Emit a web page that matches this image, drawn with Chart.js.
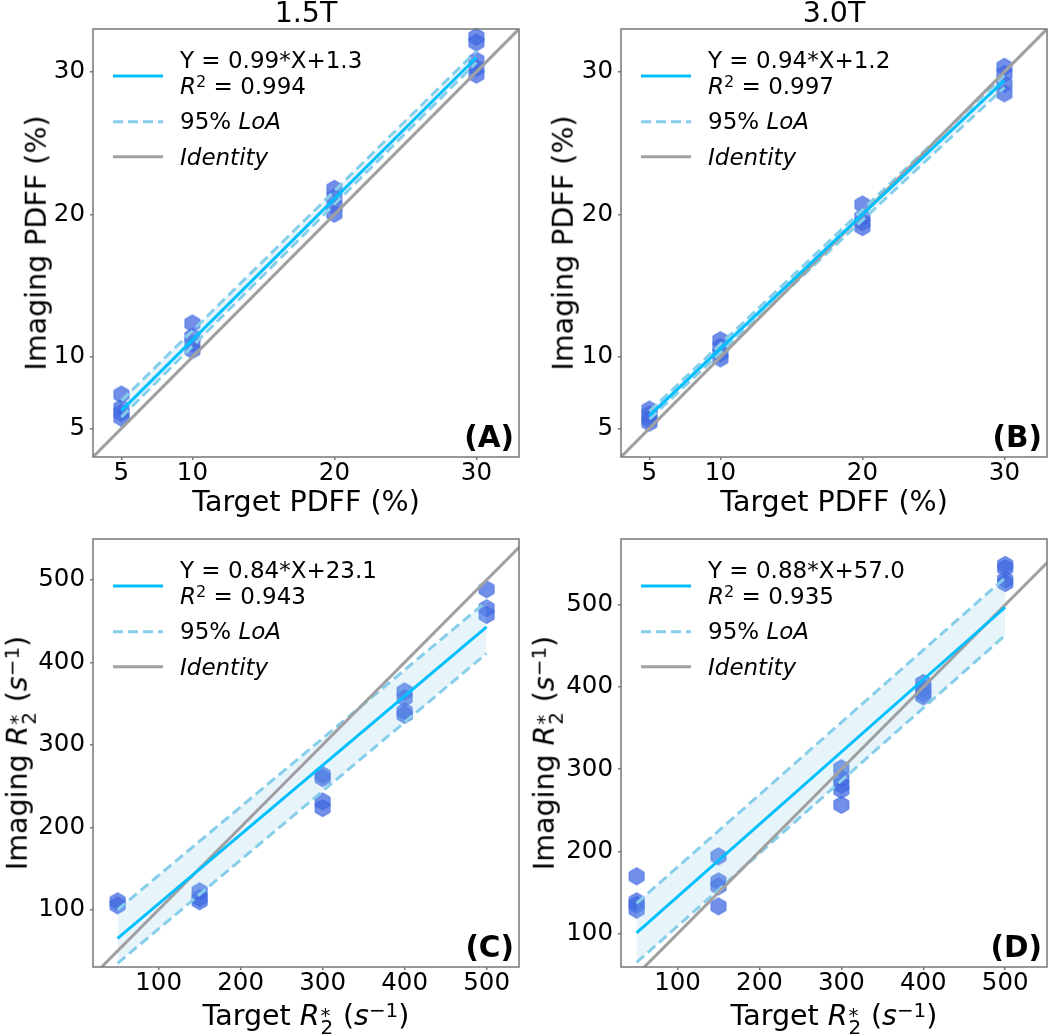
<!DOCTYPE html>
<html>
<head>
<meta charset="utf-8">
<script src="https://cdn.jsdelivr.net/npm/chart.js@4.4.1/dist/chart.umd.min.js"></script>
<style>
  body { margin: 0; background: #fff; }
  #wrap { position: relative; width: 1050px; height: 1036px; overflow: hidden; font-family: 'DejaVu Sans', sans-serif; color: #000; }
  canvas { position: absolute; }
  .t { position: absolute; white-space: nowrap; line-height: 1; }
</style>
</head>
<body>
<div id="wrap"></div>
<script>
// column titles and panel tags
const titles = ['1.5T', '3.0T'];
const tags = ['(A)', '(B)', '(C)', '(D)'];
const eqs = ['Y = 0.99*X+1.3', 'Y = 0.94*X+1.2', 'Y = 0.84*X+23.1', 'Y = 0.88*X+57.0'];
const r2s = ['0.994', '0.997', '0.943', '0.935'];

// tick values
const pdffTicks = [5, 10, 20, 30];
const r2Ticks = [100, 200, 300, 400, 500];

// identity line ends
const identity = [0, 600];

// (A) PDFF 1.5T
const aX = [5, 5, 5, 5, 10, 10, 10, 10, 20, 20, 20, 20, 30, 30, 30, 30, 30];
const aY = [7.38, 6.45, 6.1, 5.75, 12.36, 11.43, 10.96, 10.49, 21.8, 21.2, 20.6, 20.05, 32.45, 32.05, 30.8, 30.26, 29.8];
const aFitX = [5, 30];
const aFit = [6.25, 31.0];
const aUpper = [6.95, 31.45];
const aLower = [5.8, 30.65];

// (B) PDFF 3.0T
const bX = [5, 5, 5, 5, 10, 10, 10, 10, 20, 20, 20, 20, 30, 30, 30, 30];
const bY = [6.33, 5.98, 5.63, 5.4, 11.19, 10.72, 10.26, 9.91, 20.7, 19.81, 19.46, 19.11, 30.35, 29.85, 29.15, 28.49];
const bFitX = [5, 30];
const bFit = [5.9, 29.4];
const bUpper = [6.2, 29.75];
const bLower = [5.65, 28.9];

// (C) R2* 1.5T
const cX = [50, 50, 150, 150, 150, 300, 300, 300, 300, 400, 400, 400, 400, 500, 500, 500];
const cY = [110.2, 105.3, 122.3, 114.2, 110.2, 263.6, 259.6, 231.4, 223.3, 364.8, 356.7, 340.6, 336.4, 488.7, 465.7, 457.6];
const cFitX = [50, 500];
const cFit = [65.1, 443.1];
const cUpper = [100, 474];
const cLower = [35, 411];

// (D) R2* 3.0T
const dX = [50, 50, 50, 50, 150, 150, 150, 150, 300, 300, 300, 300, 300, 400, 400, 400, 400, 500, 500, 500, 500];
const dY = [169.8, 139.4, 135.3, 129.2, 194.1, 163.7, 157.6, 133.3, 301.2, 289, 280.9, 274.8, 256.6, 404.9, 398.8, 392.7, 388.6, 548.6, 544.6, 530.4, 526.3];
const dFitX = [50, 500];
const dFit = [101, 497];
const dUpper = [137, 533];
const dLower = [65, 463];

const wrap = document.getElementById('wrap');

// hexagon marker
const hex = document.createElement('canvas');
hex.width = 18; hex.height = 20;
(function () {
  const g = hex.getContext('2d');
  g.beginPath();
  for (let k = 0; k < 6; k++) {
    const a = (-90 + k * 60) * Math.PI / 180;
    const px = 9 + 8.5 * Math.cos(a), py = 10 + 8.5 * Math.sin(a);
    if (k === 0) g.moveTo(px, py); else g.lineTo(px, py);
  }
  g.closePath();
  g.fillStyle = 'rgba(65,105,225,0.75)';
  g.fill();
  g.strokeStyle = 'rgba(65,105,225,0.9)';
  g.lineWidth = 1;
  g.stroke();
})();

const frame = {
  id: 'frame',
  afterDraw(c) {
    const a = c.chartArea, x = c.ctx;
    x.save();
    x.strokeStyle = '#777';
    x.lineWidth = 1.5;
    x.strokeRect(a.left, a.top, a.right - a.left, a.bottom - a.top);
    x.restore();
  }
};

const pts = (xs, ys) => xs.map((v, i) => ({ x: v, y: ys[i] }));
const tickFont = { family: 'DejaVu Sans', size: 24.5 };
const tickGrid = { display: true, drawOnChartArea: false, drawTicks: true, tickLength: 3, color: '#777', lineWidth: 1.5 };

function makeChart(p) {
  const cv = document.createElement('canvas');
  cv.width = p.R - p.L + 96;
  cv.height = p.B - p.T + 60;
  cv.style.left = (p.L - 90) + 'px';
  cv.style.top = (p.T - 10) + 'px';
  wrap.appendChild(cv);

  new Chart(cv, {
    type: 'scatter',
    data: {
      datasets: [
        { type: 'line', data: pts(p.fitX, p.fit), borderColor: '#00BFFF', borderWidth: 3, pointRadius: 0, clip: 0 },
        { type: 'line', data: pts(identity, identity), borderColor: '#A0A0A0', borderWidth: 3, pointRadius: 0, clip: 0 },
        { type: 'line', data: pts(p.fitX, p.upper), borderColor: '#87CEEB', borderWidth: 3, borderDash: [10, 5], pointRadius: 0, clip: 0 },
        { type: 'line', data: pts(p.fitX, p.lower), borderColor: '#87CEEB', borderWidth: 3, borderDash: [10, 5], pointRadius: 0, clip: 0,
          fill: '-1', backgroundColor: 'rgba(135,206,235,0.2)' },
        { data: pts(p.x, p.y), pointStyle: hex, clip: false }
      ]
    },
    options: {
      responsive: false,
      animation: false,
      events: [],
      layout: { padding: { top: 10, right: 6, left: 0, bottom: 0 } },
      plugins: { legend: { display: false }, tooltip: { enabled: false } },
      scales: {
        x: {
          type: 'linear', min: p.xMin, max: p.xMax,
          grid: tickGrid, border: { display: false },
          afterBuildTicks: s => { s.ticks = p.ticks.map(v => ({ value: v })); },
          afterFit: s => { s.height = 50; s.paddingLeft = 0; s.paddingRight = 0; },
          ticks: { font: tickFont, color: '#000', padding: -1, maxRotation: 0, autoSkip: false }
        },
        y: {
          type: 'linear', min: p.yMin, max: p.yMax,
          grid: tickGrid, border: { display: false },
          afterBuildTicks: s => { s.ticks = p.ticks.map(v => ({ value: v })); },
          afterFit: s => { s.width = 90; s.paddingTop = 0; s.paddingBottom = 0; },
          ticks: { font: tickFont, color: '#000', padding: 5, autoSkip: false }
        }
      }
    },
    plugins: [frame]
  });
}

// text helpers
function put(html, x, base, fs, align, extra) {
  const d = document.createElement('div');
  d.className = 't';
  d.innerHTML = html;
  d.style.fontSize = fs + 'px';
  d.style.left = x + 'px';
  d.style.top = (base - 0.846 * fs) + 'px';
  if (align === 'center') d.style.transform = 'translateX(-50%)';
  if (align === 'right') d.style.transform = 'translateX(-100%)';
  if (extra) d.style.cssText += extra;
  wrap.appendChild(d);
}
function putV(html, baseX, cy, fs) {
  const d = document.createElement('div');
  d.className = 't';
  d.innerHTML = html;
  d.style.fontSize = fs + 'px';
  d.style.left = (baseX - 0.346 * fs) + 'px';
  d.style.top = cy + 'px';
  d.style.transform = 'translate(-50%,-50%) rotate(-90deg)';
  wrap.appendChild(d);
}
const sup = s => '<span style="position:relative;top:-0.42em;font-size:0.7em">' + s + '</span>';
const subsup = (sb, sp) => '<span style="display:inline-block;position:relative;width:0.5em;height:0">' +
  '<span style="position:absolute;left:0.04em;top:-0.97em;font-size:0.7em;line-height:1">' + sp + '</span>' +
  '<span style="position:absolute;left:0.04em;top:-0.36em;font-size:0.7em;line-height:1">' + sb + '</span></span>';
const r2Sym = '<i>R</i>' + subsup('2', '*');
const invS = '(<i>s</i>' + sup('\u22121') + ')';

const panels = [
  { L: 93, R: 519, T: 29, B: 457, xMin: 3, xMax: 33, yMin: 3, yMax: 33, ticks: pdffTicks,
    x: aX, y: aY, fitX: aFitX, fit: aFit, upper: aUpper, lower: aLower,
    xl: 'Target PDFF (%)', yl: 'Imaging PDFF (%)', ylX: 46.7 },
  { L: 621, R: 1047, T: 29, B: 457, xMin: 3, xMax: 33, yMin: 3, yMax: 33, ticks: pdffTicks,
    x: bX, y: bY, fitX: bFitX, fit: bFit, upper: bUpper, lower: bLower,
    xl: 'Target PDFF (%)', yl: 'Imaging PDFF (%)', ylX: 574.3 },
  { L: 93, R: 519, T: 539, B: 967, xMin: 20, xMax: 539.5, yMin: 30.5, yMax: 549.7, ticks: r2Ticks,
    x: cX, y: cY, fitX: cFitX, fit: cFit, upper: cUpper, lower: cLower,
    xl: 'Target ' + r2Sym + ' ' + invS, yl: 'Imaging ' + r2Sym + ' ' + invS, ylX: 27.5 },
  { L: 621, R: 1047, T: 539, B: 967, xMin: 31, xMax: 551, yMin: 59.5, yMax: 580, ticks: r2Ticks,
    x: dX, y: dY, fitX: dFitX, fit: dFit, upper: dUpper, lower: dLower,
    xl: 'Target ' + r2Sym + ' ' + invS, yl: 'Imaging ' + r2Sym + ' ' + invS, ylX: 555 }
];

// legend handles
const svgNS = 'http://www.w3.org/2000/svg';
const svg = document.createElementNS(svgNS, 'svg');
svg.setAttribute('width', 1050);
svg.setAttribute('height', 1036);
svg.style.position = 'absolute';
svg.style.left = '0px';
svg.style.top = '0px';
function handle(x1, x2, y, color, dash) {
  const l = document.createElementNS(svgNS, 'line');
  l.setAttribute('x1', x1); l.setAttribute('x2', x2);
  l.setAttribute('y1', y); l.setAttribute('y2', y);
  l.setAttribute('stroke', color);
  l.setAttribute('stroke-width', 3);
  if (dash) l.setAttribute('stroke-dasharray', dash);
  svg.appendChild(l);
}

panels.forEach((p, i) => {
  makeChart(p);
  const cx = (p.L + p.R) / 2;
  put(p.xl, cx, p.B + (i < 2 ? 54.7 : 59.3), 28.5, 'center');
  putV(p.yl, p.ylX, (p.T + p.B) / 2, 28.5);
  put(tags[i], p.R - 5, p.B - 9.5, 29.5, 'right', 'font-weight:bold;');
  // legend
  handle(p.L + 20, p.L + 70, p.T + 47, '#00BFFF');
  handle(p.L + 20, p.L + 70, p.T + 92.7, '#87CEEB', '10 5');
  handle(p.L + 20, p.L + 70, p.T + 127.7, '#A0A0A0');
  put(eqs[i], p.L + 87, p.T + 39.3, 23, 'left');
  put('<i>R</i>' + sup('2') + ' = ' + r2s[i], p.L + 87, p.T + 65, 23, 'left');
  put('95% <i>LoA</i>', p.L + 87, p.T + 100.3, 23, 'left');
  put('<i>Identity</i>', p.L + 87, p.T + 136, 23, 'left');
});
wrap.appendChild(svg);

put(titles[0], (panels[0].L + panels[0].R) / 2, 22.7, 28.5, 'center');
put(titles[1], (panels[1].L + panels[1].R) / 2, 22.7, 28.5, 'center');
</script>
</body>
</html>
